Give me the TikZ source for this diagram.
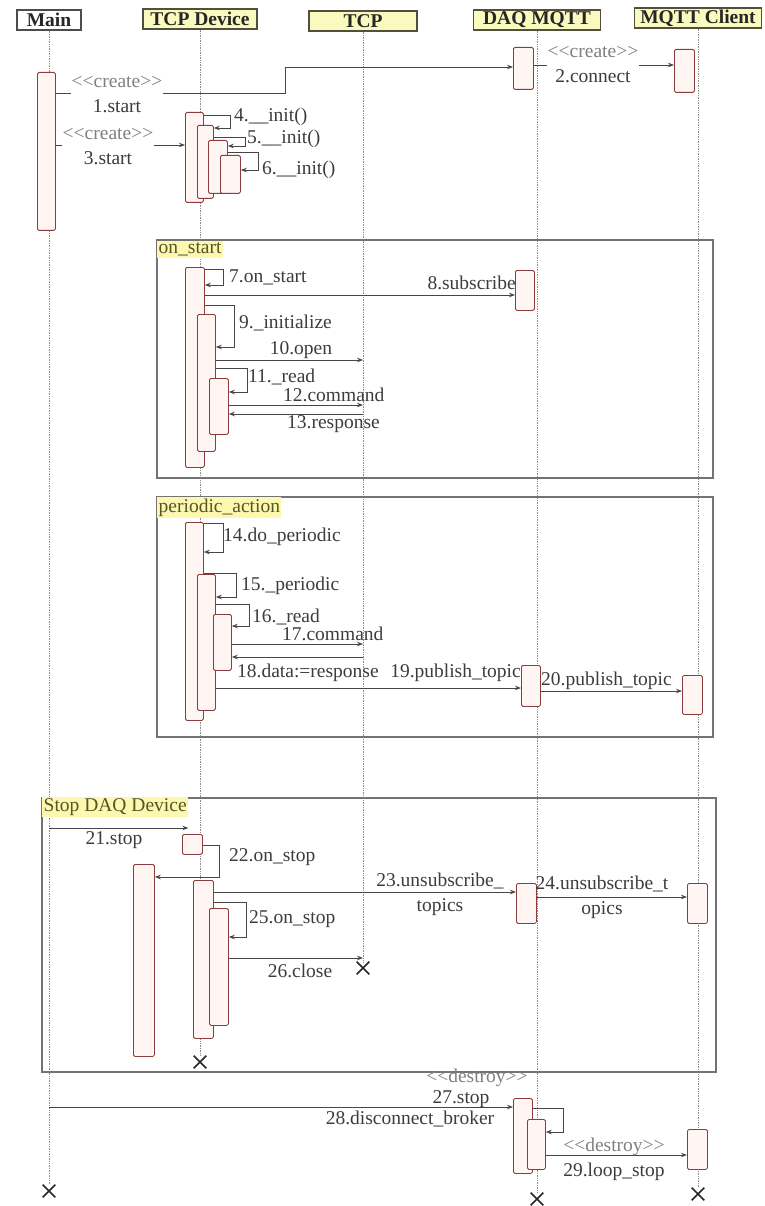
\documentclass[tikz,border=0pt]{standalone}
\usepackage{fontspec}
\setmainfont{Liberation Serif}
\usetikzlibrary{arrows.meta,shapes.misc}

\definecolor{barline}{RGB}{140,60,60}
\definecolor{barfill}{RGB}{255,246,244}
\definecolor{headfill}{RGB}{250,250,190}
\definecolor{headline}{RGB}{80,80,60}
\definecolor{tagfill}{RGB}{252,248,175}
\definecolor{tagtext}{RGB}{85,85,40}
\definecolor{msgline}{RGB}{70,70,70}
\definecolor{txt}{RGB}{60,60,60}
\newcommand{\stq}[1]{<\kern0pt<#1>\kern0pt>}

\begin{document}
\begin{tikzpicture}[x=1pt,y=-1pt,
  every node/.style={font=\fontsize{19.5}{25}\selectfont,text=txt},
  head/.style={draw=headline,fill=headfill,line width=1.2pt,minimum height=20pt,inner sep=0pt,
    font=\fontsize{19.5}{22}\selectfont\bfseries,text=black!85},
  actbar/.style={draw=barline,fill=barfill,line width=0.8pt,rounded corners=1.5pt,inner sep=0pt,anchor=north west},
  life/.style={draw=black!45,densely dotted,line width=0.7pt},
  msg/.style={draw=msgline,line width=0.9pt,-{Stealth[length=6pt,width=4.5pt]}},
  lbl/.style={inner sep=1pt},
  stereo/.style={text=black!50},
  frame/.style={draw=black!55,line width=1.3pt},
  tag/.style={fill=tagfill,text=tagtext,anchor=north west,inner sep=1.5pt},
  endx/.style={cross out,draw=black!85,line width=1.6pt,minimum size=11pt,inner sep=0pt}]
  \useasboundingbox (0,0) rectangle (764,1206);

  \node[head,minimum width=64pt,fill=white,draw=black!70] (hMain) at (49,20) {Main};
  \node[head,minimum width=114pt] (hDev) at (200,19) {TCP Device};
  \node[head,minimum width=108pt] (hTcp) at (363,21) {TCP};
  \node[head,minimum width=127pt] (hDaq) at (537,20) {DAQ MQTT};
  \node[head,minimum width=127pt] (hCli) at (698,18) {MQTT Client};

  \node[endx] (xMain) at (49,1191) {};
  \node[endx] (xDev) at (200,1062) {};
  \node[endx] (xTcp) at (363,968) {};
  \node[endx] (xDaq) at (537,1199) {};
  \node[endx] (xCli) at (698,1194) {};

  \draw[life] (hMain.south) -- (xMain);
  \draw[life] (hDev.south) -- (xDev);
  \draw[life] (hTcp.south) -- (xTcp);
  \draw[life] (hDaq.south) -- (xDaq);
  \draw[life] (hCli.south) -- (xCli);

  \node[actbar,minimum width=18pt,minimum height=158pt] (mainbar) at (37,72) {};
  \node[actbar,minimum width=20pt,minimum height=42pt] (daqA) at (513,47) {};
  \node[actbar,minimum width=20pt,minimum height=43pt] (cliA) at (674,49) {};
  \node[actbar,minimum width=18pt,minimum height=90pt] (devA) at (185,112) {};
  \node[actbar,minimum width=16pt,minimum height=73pt] (devB) at (197,125) {};
  \node[actbar,minimum width=19pt,minimum height=53pt] (devC) at (208,140) {};
  \node[actbar,minimum width=20pt,minimum height=38pt] (devD) at (220,155) {};

  \node[actbar,minimum width=19pt,minimum height=200pt] (devE) at (185,267) {};
  \node[actbar,minimum width=18pt,minimum height=137pt] (devF) at (197,314) {};
  \node[actbar,minimum width=19pt,minimum height=56pt] (devG) at (209,378) {};
  \node[actbar,minimum width=19pt,minimum height=40pt] (daqB) at (515,270) {};

  \node[actbar,minimum width=18pt,minimum height=198pt] (devH) at (185,522) {};
  \node[actbar,minimum width=18pt,minimum height=136pt] (devI) at (197,574) {};
  \node[actbar,minimum width=18pt,minimum height=56pt] (devJ) at (213,614) {};
  \node[actbar,minimum width=19pt,minimum height=41pt] (daqC) at (521,665) {};
  \node[actbar,minimum width=20pt,minimum height=39pt] (cliB) at (682,675) {};

  \node[actbar,minimum width=20pt,minimum height=20pt] (devK) at (182,834) {};
  \node[actbar,minimum width=21pt,minimum height=192pt] (mainL) at (133,864) {};
  \node[actbar,minimum width=20pt,minimum height=158pt] (devM) at (193,880) {};
  \node[actbar,minimum width=19pt,minimum height=117pt] (devN) at (209,908) {};
  \node[actbar,minimum width=20pt,minimum height=40pt] (daqD) at (516,883) {};
  \node[actbar,minimum width=20pt,minimum height=40pt] (cliC) at (687,883) {};

  \node[actbar,minimum width=19pt,minimum height=75pt] (daqE) at (513,1098) {};
  \node[actbar,minimum width=18pt,minimum height=50pt] (daqF) at (527,1119) {};
  \node[actbar,minimum width=20pt,minimum height=40pt] (cliD) at (687,1129) {};

  \draw[msg] (mainbar.east |- 0,93) -- (285,93) |- (daqA.west |- 0,67);
  \node[lbl,fill=white,align=center] (m1) at (117,95) {{\color{black!50}\stq{create}}\\1.start};
  \draw[msg] (daqA.east |- 0,65) -- (cliA.west |- 0,65);
  \node[lbl,fill=white,align=center] (m2) at (593,65) {{\color{black!50}\stq{create}}\\2.connect};
  \draw[msg] (mainbar.east |- 0,145) -- (devA.west |- 0,145);
  \node[lbl,fill=white,align=center] (m3) at (108,147) {{\color{black!50}\stq{create}}\\3.start};

  \draw[msg] (devA.east |- 0,115) -- (230,115) |- (devB.east |- 0,128);
  \node[lbl,anchor=west] (m4) at (233,117) {4.\_\_init()};
  \draw[msg] (devB.east |- 0,137) -- (245,137) |- (devC.east |- 0,146);
  \node[lbl,anchor=west] (m5) at (246,139) {5.\_\_init()};
  \draw[msg] (devC.east |- 0,152) -- (258,152) |- (devD.east |- 0,170);
  \node[lbl,anchor=west] (m6) at (261,170) {6.\_\_init()};

  \draw[frame] (157,240) rectangle (713,478);
  \node[tag] (tStart) at (157,241) {on\_start};
  \draw[msg] (devE.east |- 0,269) -- (223,269) |- (devE.east |- 0,285);
  \node[lbl,anchor=west] (m7) at (228,277) {7.on\_start};
  \draw[msg] (devE.east |- 0,295) -- (daqB.west |- 0,295);
  \node[lbl,anchor=east] (m8) at (517,283) {8.subscribe};
  \draw[msg] (devE.east |- 0,305) -- (234,305) |- (devF.east |- 0,347);
  \node[lbl,anchor=west] (m9) at (238,323) {9.\_initialize};
  \draw[msg] (devF.east |- 0,360) -- (hTcp |- 0,360);
  \node[lbl] (m10) at (301,350) {10.open};
  \draw[msg] (devF.east |- 0,368) -- (247,368) |- (devG.east |- 0,392);
  \node[lbl,anchor=west] (m11) at (247,377) {11.\_read};
  \draw[msg] (devG.east |- 0,405) -- (hTcp |- 0,405);
  \node[lbl,anchor=west] (m12) at (282,395) {12.command};
  \draw[msg] (hTcp |- 0,414) -- (devG.east |- 0,414);
  \node[lbl,anchor=west] (m13) at (286,424) {13.response};

  \draw[frame] (157,497) rectangle (713,737);
  \node[tag] (tPeriodic) at (157,497) {periodic\_action};
  \draw[msg] (devH.east |- 0,523) -- (223,523) |- (devH.east |- 0,552);
  \node[lbl,anchor=west] (m14) at (222,537) {14.do\_periodic};
  \draw[msg] (devH.east |- 0,573) -- (236,573) |- (devI.east |- 0,597);
  \node[lbl,anchor=west] (m15) at (240,586) {15.\_periodic};
  \draw[msg] (devI.east |- 0,604) -- (249,604) |- (devJ.east |- 0,626);
  \node[lbl,anchor=west] (m16) at (251,617) {16.\_read};
  \draw[msg] (devJ.east |- 0,644) -- (hTcp |- 0,644);
  \node[lbl,anchor=west] (m17) at (281,634) {17.command};
  \draw[msg] (hTcp |- 0,657) -- (devJ.east |- 0,657);
  \node[lbl,anchor=west] (m18) at (236,673) {18.data:=response};
  \draw[msg] (devI.east |- 0,688) -- (daqC.west |- 0,688);
  \node[lbl,anchor=east] (m19) at (522,673) {19.publish\_topic};
  \draw[msg] (daqC.east |- 0,691) -- (cliB.west |- 0,691);
  \node[lbl,anchor=west] (m20) at (540,681) {20.publish\_topic};

  \draw[frame] (42,798) rectangle (716,1072);
  \node[tag] (tStop) at (42,797) {Stop DAQ Device};
  \draw[msg] (hMain |- 0,828) -- ([xshift=-4pt,yshift=6pt]devK.north);
  \node[lbl] (m21) at (114,840) {21.stop};
  \draw[msg] (devK.east |- 0,845) -- (219,845) |- (mainL.east |- 0,877);
  \node[lbl,anchor=west] (m22) at (228,857) {22.on\_stop};
  \draw[msg] (devM.east |- 0,892) -- (daqD.west |- 0,892);
  \node[lbl,align=center] (m23) at (440,894) {23.unsubscribe\_\\topics};
  \draw[msg] (daqD.east |- 0,897) -- (cliC.west |- 0,897);
  \node[lbl,align=center] (m24) at (602,897) {24.unsubscribe\_t\\opics};
  \draw[msg] (devM.east |- 0,902) -- (246,902) |- (devN.east |- 0,937);
  \node[lbl,anchor=west] (m25) at (248,919) {25.on\_stop};
  \draw[msg] (devN.east |- 0,958) -- (hTcp |- 0,958);
  \node[lbl] (m26) at (300,971) {26.close};

  \draw[msg] (hMain |- 0,1107) -- (daqE.west |- 0,1107);
  \node[lbl,stereo] (m27s) at (477,1078) {\stq{destroy}};
  \node[lbl] (m27) at (461,1099) {27.stop};
  \node[lbl] (m28) at (410,1119) {28.disconnect\_broker};
  \draw[msg] (daqE.east |- 0,1108) -- (563,1108) |- (daqF.east |- 0,1132);
  \draw[msg] (daqF.east |- 0,1155) -- (cliD.west |- 0,1155);
  \node[lbl,align=center] (m29) at (614,1159) {{\color{black!50}\stq{destroy}}\\29.loop\_stop};
\end{tikzpicture}
\end{document}
